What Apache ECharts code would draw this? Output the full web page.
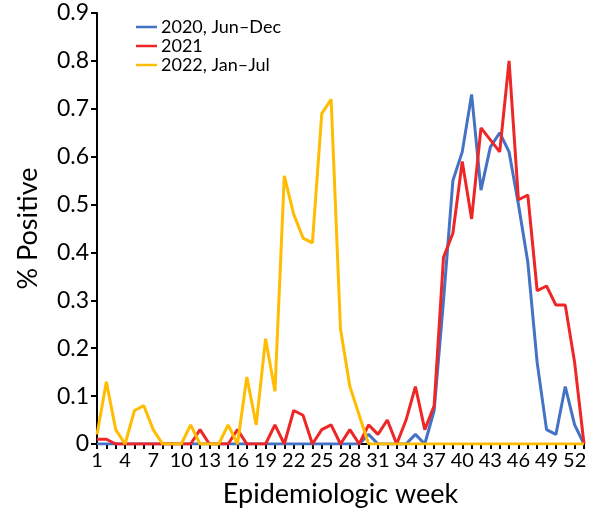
<!DOCTYPE html>
<html>
<head>
<meta charset="utf-8">
<script src="https://cdn.jsdelivr.net/npm/echarts@6/dist/echarts.min.js"></script>
<style>
html,body{margin:0;padding:0;background:#fff;}
#chart{width:600px;height:515px;}
</style>
</head>
<body>
<div id="chart"></div>
<script>
// Epidemiologic weeks 1..53
var weeks = [];
for (var w = 1; w <= 53; w++) weeks.push(String(w));

var seriesNames = ['2020, Jun\u2013Dec', '2021', '2022, Jan\u2013Jul'];

var values2020 = [
  0,0,0,0,0,0,0,0,0,0,
  0,0,0,0,0,0,0,0,0,0,
  0,0,0,0,0,0,0,0,0,0.02,
  0,0,0,0,0.02,0,0.07,0.30,0.55,0.61,
  0.73,0.53,0.62,0.65,0.61,0.50,0.38,0.17,0.03,0.02,
  0.12,0.04,0
];

var values2021 = [
  0.01,0.01,0,0,0,0,0,0,0,0,
  0,0.03,0,0,0,0.03,0,0,0,0.04,
  0,0.07,0.06,0,0.03,0.04,0,0.03,0,0.04,
  0.02,0.05,0,0.05,0.12,0.03,0.08,0.39,0.44,0.59,
  0.47,0.66,0.635,0.61,0.80,0.51,0.52,0.32,0.33,0.29,
  0.29,0.17,0
];

var values2022 = [
  0.02,0.13,0.03,0,0.07,0.08,0.03,0,0,0,
  0.04,0,0,0,0.04,0,0.14,0.04,0.22,0.11,
  0.56,0.48,0.43,0.42,0.69,0.72,0.24,0.12,0.06,0,
  0,0,0,0,0,0,0,0,0,0,
  0,0,0,0,0,0,0,0,0,0,
  0,0,0
];

var colors = ['#4472C4', '#EE2626', '#FFBC00'];
var FONT = 'Lato, "Open Sans", sans-serif';

var chart = echarts.init(document.getElementById('chart'), null, {renderer: 'canvas'});
chart.setOption({
  animation: false,
  backgroundColor: '#ffffff',
  color: colors,
  textStyle: {fontFamily: FONT, color: '#000'},
  grid: {left: 97, right: 16, top: 13, bottom: 71, outerBoundsMode: 'none', containLabel: false},
  legend: {
    orient: 'vertical',
    left: 136,
    top: 18,
    padding: 0,
    itemGap: 1,
    itemWidth: 21,
    itemHeight: 2.5,
    icon: 'rect',
    textStyle: {fontFamily: FONT, fontSize: 18, color: '#000', lineHeight: 16, padding: [0, 0, 0, -1]},
    data: seriesNames
  },
  xAxis: {
    type: 'category',
    data: weeks,
    boundaryGap: false,
    name: 'Epidemiologic week',
    nameLocation: 'middle',
    nameGap: 37,
    nameTextStyle: {fontFamily: FONT, fontSize: 27, color: '#000'},
    axisLine: {lineStyle: {color: '#000', width: 2}},
    axisTick: {show: true, interval: 0, length: 5, lineStyle: {color: '#000', width: 2}},
    axisLabel: {interval: 2, fontFamily: FONT, fontSize: 20, color: '#000', margin: 7},
    splitLine: {show: false}
  },
  yAxis: {
    type: 'value',
    min: 0,
    max: 0.9,
    interval: 0.1,
    name: '% Positive',
    nameLocation: 'middle',
    nameGap: 55,
    nameTextStyle: {fontFamily: FONT, fontSize: 27, color: '#000'},
    axisLine: {show: true, lineStyle: {color: '#000', width: 2}},
    axisTick: {show: true, length: 6, lineStyle: {color: '#000', width: 2}},
    axisLabel: {fontFamily: FONT, fontSize: 23, color: '#000', margin: 8,
      formatter: function (v) { return String(Math.round(v * 10) / 10); }},
    splitLine: {show: false}
  },
  series: [
    {name: seriesNames[0], type: 'line', data: values2020, showSymbol: false, lineStyle: {width: 3, color: colors[0]}, z: 2},
    {name: seriesNames[1], type: 'line', data: values2021, showSymbol: false, lineStyle: {width: 3, color: colors[1]}, z: 3},
    {name: seriesNames[2], type: 'line', data: values2022, showSymbol: false, lineStyle: {width: 3, color: colors[2]}, z: 4}
  ]
});
</script>
</body>
</html>
